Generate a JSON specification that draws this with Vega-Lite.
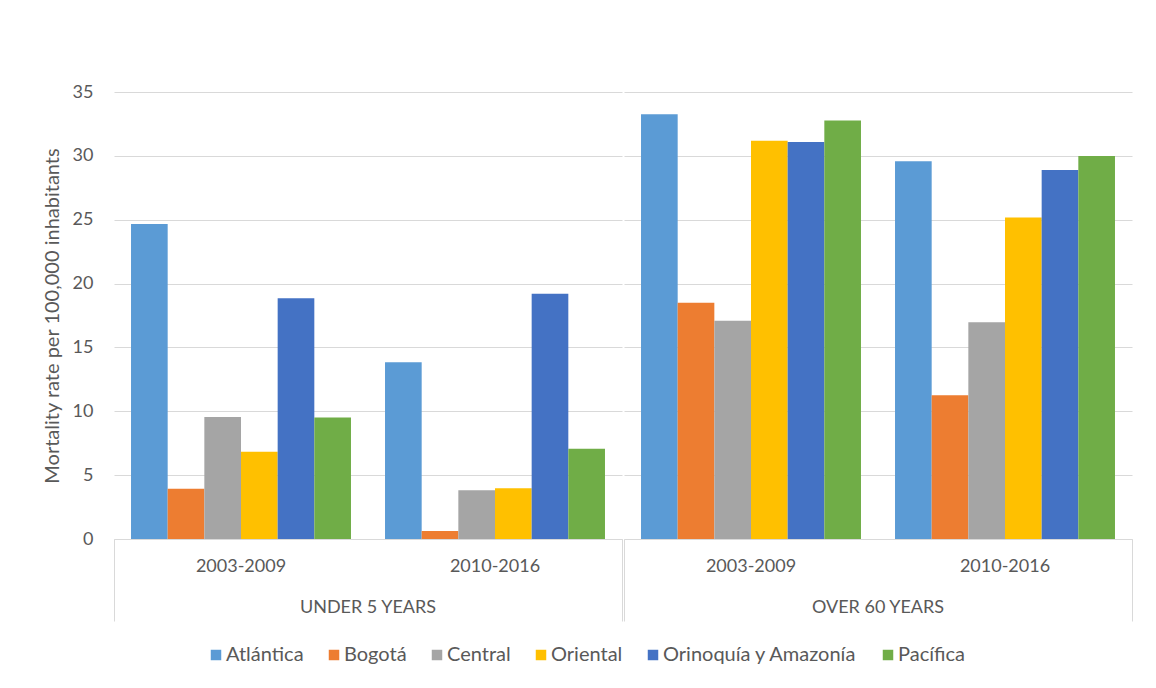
{
  "$schema": "https://vega.github.io/schema/vega-lite/v6.json",
  "background": "white",
  "padding": {"left": 42, "top": 83, "right": 20, "bottom": 10},
  "data": {"values": [
    {"age": "UNDER 5 YEARS", "period": "2003-2009", "region": "Atlántica", "value": 24.66},
    {"age": "UNDER 5 YEARS", "period": "2003-2009", "region": "Bogotá", "value": 3.94},
    {"age": "UNDER 5 YEARS", "period": "2003-2009", "region": "Central", "value": 9.56},
    {"age": "UNDER 5 YEARS", "period": "2003-2009", "region": "Oriental", "value": 6.84},
    {"age": "UNDER 5 YEARS", "period": "2003-2009", "region": "Orinoquía y Amazonía", "value": 18.86},
    {"age": "UNDER 5 YEARS", "period": "2003-2009", "region": "Pacífica", "value": 9.51},
    {"age": "UNDER 5 YEARS", "period": "2010-2016", "region": "Atlántica", "value": 13.84},
    {"age": "UNDER 5 YEARS", "period": "2010-2016", "region": "Bogotá", "value": 0.63},
    {"age": "UNDER 5 YEARS", "period": "2010-2016", "region": "Central", "value": 3.81},
    {"age": "UNDER 5 YEARS", "period": "2010-2016", "region": "Oriental", "value": 3.97},
    {"age": "UNDER 5 YEARS", "period": "2010-2016", "region": "Orinoquía y Amazonía", "value": 19.2},
    {"age": "UNDER 5 YEARS", "period": "2010-2016", "region": "Pacífica", "value": 7.07},
    {"age": "OVER 60 YEARS", "period": "2003-2009", "region": "Atlántica", "value": 33.25},
    {"age": "OVER 60 YEARS", "period": "2003-2009", "region": "Bogotá", "value": 18.5},
    {"age": "OVER 60 YEARS", "period": "2003-2009", "region": "Central", "value": 17.08},
    {"age": "OVER 60 YEARS", "period": "2003-2009", "region": "Oriental", "value": 31.19},
    {"age": "OVER 60 YEARS", "period": "2003-2009", "region": "Orinoquía y Amazonía", "value": 31.08},
    {"age": "OVER 60 YEARS", "period": "2003-2009", "region": "Pacífica", "value": 32.76},
    {"age": "OVER 60 YEARS", "period": "2010-2016", "region": "Atlántica", "value": 29.57},
    {"age": "OVER 60 YEARS", "period": "2010-2016", "region": "Bogotá", "value": 11.25},
    {"age": "OVER 60 YEARS", "period": "2010-2016", "region": "Central", "value": 16.97},
    {"age": "OVER 60 YEARS", "period": "2010-2016", "region": "Oriental", "value": 25.18},
    {"age": "OVER 60 YEARS", "period": "2010-2016", "region": "Orinoquía y Amazonía", "value": 28.89},
    {"age": "OVER 60 YEARS", "period": "2010-2016", "region": "Pacífica", "value": 29.98}
  ]},
  "facet": {
    "column": {
      "field": "age",
      "type": "nominal",
      "sort": ["UNDER 5 YEARS", "OVER 60 YEARS"],
      "header": {
        "labelOrient": "bottom",
        "title": null,
        "labelFont": "Lato",
        "labelFontSize": 18,
        "labelColor": "#595959",
        "labelPadding": -23
      }
    }
  },
  "spacing": 0,
  "resolve": {"scale": {"x": "independent", "xOffset": "independent"}, "axis": {"x": "independent"}},
  "spec": {
    "width": 508,
    "height": 447,
    "layer": [
      {
        "mark": {"type": "bar", "opacity": 0},
        "encoding": {
          "x": {
            "datum": "all",
            "type": "nominal",
            "scale": {"paddingInner": 0, "paddingOuter": 0},
            "axis": {
              "orient": "bottom",
              "title": null,
              "labels": false,
              "domain": false,
              "grid": false,
              "tickBand": "extent",
              "tickExtra": true,
              "tickSize": 82,
              "tickColor": "#D9D9D9",
              "tickWidth": 1
            }
          }
        }
      },
      {
        "mark": {"type": "bar", "strokeWidth": 0},
        "encoding": {
          "x": {
            "field": "period",
            "type": "nominal",
            "scale": {"paddingInner": 0.134, "paddingOuter": 0.067},
            "axis": {
              "orient": "bottom",
              "title": null,
              "labelAngle": 0,
              "ticks": false,
              "tickSize": 0,
              "labelPadding": 18,
              "labelBaseline": "top",
              "domainColor": "#D9D9D9",
              "labelFont": "Lato",
              "labelFontSize": 18,
              "labelColor": "#595959"
            }
          },
          "xOffset": {
            "field": "region",
            "type": "nominal",
            "sort": ["Atlántica", "Bogotá", "Central", "Oriental", "Orinoquía y Amazonía", "Pacífica"],
            "scale": {"paddingInner": 0, "paddingOuter": 0}
          },
          "y": {
            "field": "value",
            "type": "quantitative",
            "scale": {"domain": [0, 35]},
            "axis": {
              "title": "Mortality rate per 100,000 inhabitants",
              "titleFont": "Lato",
              "titleFontSize": 20,
              "titleFontWeight": "normal",
              "titleColor": "#595959",
              "titlePadding": 10,
              "values": [0, 5, 10, 15, 20, 25, 30, 35],
              "labelFont": "Lato",
              "labelFontSize": 18,
              "labelColor": "#595959",
              "labelPadding": 20,
              "ticks": false,
              "domain": false,
              "gridColor": "#D9D9D9",
              "gridWidth": 1
            }
          },
          "color": {
            "field": "region",
            "type": "nominal",
            "sort": ["Atlántica", "Bogotá", "Central", "Oriental", "Orinoquía y Amazonía", "Pacífica"],
            "scale": {
              "domain": ["Atlántica", "Bogotá", "Central", "Oriental", "Orinoquía y Amazonía", "Pacífica"],
              "range": ["#5B9BD5", "#ED7D31", "#A5A5A5", "#FFC000", "#4472C4", "#70AD47"]
            },
            "legend": {
              "title": null,
              "orient": "none",
              "legendX": 92,
              "legendY": 553,
              "direction": "horizontal",
              "symbolType": "square",
              "symbolSize": 110,
              "symbolStrokeWidth": 0,
              "symbolOpacity": 1,
              "labelFont": "Lato",
              "labelFontSize": 20,
              "labelColor": "#595959",
              "labelOffset": 0,
              "labelLimit": 400,
              "columnPadding": 20
            }
          }
        }
      }
    ],
    "resolve": {"scale": {"x": "independent", "xOffset": "independent"}, "axis": {"x": "independent"}}
  },
  "config": {
    "view": {"stroke": null}
  }
}
